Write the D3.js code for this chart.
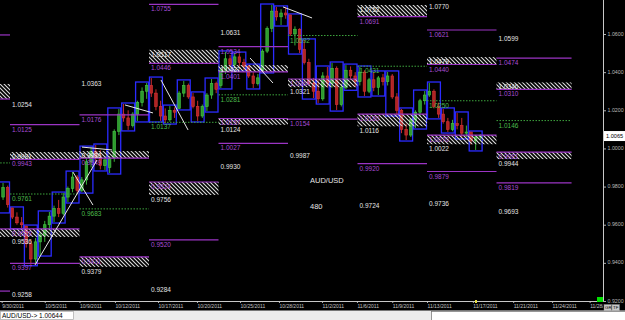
<!DOCTYPE html>
<html>
<head>
<meta charset="utf-8">
<script src="https://cdn.jsdelivr.net/npm/d3@7"></script>
<style>
  html, body { margin: 0; padding: 0; background: #000; }
  svg { display: block; }
</style>
</head>
<body>
<div id="chart"></div>
<script>
'use strict';

////////////////////////////////////////////////////////////////////////////////////
// data  (x positions are in trading-day units, day 0 = start of first full week)

var symbolName = 'AUD/USD';
var periodLabel = '480';
var statusQuote = '1.00644';

var priceTicks = [1.06, 1.04, 1.02, 1.00, 0.98, 0.96, 0.94, 0.92];
var dateTicks = [-0.6, 2.5, 5.0, 7.55, 10.65, 13.45, 16.55, 19.35, 22.45, 24.96, 27.5, 30.0, 33.3, 36.2, 39.0, 41.7];
var dateLabels = ['9/30/2011', '10/5/2011', '10/9/2011', '10/12/2011', '10/17/2011', '10/20/2011', '10/25/2011',
  '10/28/2011', '11/2/2011', '11/6/2011', '11/9/2011', '11/13/2011', '11/17/2011', '11/21/2011', '11/24/2011', '11/28/2011'];

// 8 hour candles, three per day, first one belongs to day -1
var firstDay = -1;
var ohlc = [
  [0.9700,0.9760,0.9667,0.9745],[0.9745,0.9819,0.9730,0.9795],[0.9795,0.9805,0.9690,0.9705],
  [0.9688,0.9688,0.9630,0.9640],[0.9640,0.9665,0.9600,0.9610],[0.9610,0.9640,0.9583,0.9600],
  [0.9593,0.9593,0.9480,0.9500],[0.9500,0.9520,0.9390,0.9420],[0.9420,0.9530,0.9400,0.9510],
  [0.9510,0.9560,0.9441,0.9545],[0.9545,0.9620,0.9510,0.9600],[0.9600,0.9667,0.9570,0.9645],
  [0.9645,0.9700,0.9614,0.9685],[0.9685,0.9730,0.9640,0.9660],[0.9660,0.9766,0.9650,0.9745],
  [0.9745,0.9800,0.9719,0.9790],[0.9790,0.9876,0.9770,0.9850],[0.9850,0.9860,0.9760,0.9780],
  [0.9780,0.9850,0.9771,0.9835],[0.9835,0.9950,0.9810,0.9930],[0.9930,1.0007,0.9900,0.9985],
  [0.9985,1.0018,0.9920,0.9950],[0.9950,0.9990,0.9890,0.9910],[0.9910,0.9960,0.9887,0.9940],
  [0.9900,0.9960,0.9871,0.9950],[0.9950,1.0100,0.9930,1.0090],[1.0090,1.0207,1.0070,1.0180],
  [1.0180,1.0233,1.0140,1.0160],[1.0160,1.0200,1.0097,1.0120],[1.0120,1.0190,1.0110,1.0180],
  [1.0180,1.0250,1.0144,1.0240],[1.0240,1.0320,1.0220,1.0300],[1.0300,1.0343,1.0260,1.0330],
  [1.0330,1.0369,1.0270,1.0290],[1.0290,1.0310,1.0200,1.0220],[1.0220,1.0250,1.0144,1.0170],
  [1.0170,1.0210,1.0133,1.0150],[1.0150,1.0222,1.0140,1.0200],[1.0200,1.0215,1.0160,1.0190],
  [1.0210,1.0300,1.0207,1.0290],[1.0290,1.0354,1.0270,1.0330],[1.0330,1.0340,1.0260,1.0270],
  [1.0270,1.0291,1.0210,1.0220],[1.0220,1.0250,1.0144,1.0170],[1.0170,1.0230,1.0160,1.0220],
  [1.0220,1.0290,1.0196,1.0280],[1.0280,1.0364,1.0260,1.0340],[1.0340,1.0350,1.0290,1.0310],
  [1.0330,1.0420,1.0317,1.0410],[1.0410,1.0506,1.0390,1.0470],[1.0470,1.0490,1.0420,1.0440],
  [1.0440,1.0500,1.0420,1.0480],[1.0480,1.0495,1.0430,1.0450],[1.0450,1.0470,1.0411,1.0430],
  [1.0430,1.0437,1.0370,1.0380],[1.0380,1.0400,1.0317,1.0340],[1.0340,1.0390,1.0330,1.0370],
  [1.0410,1.0520,1.0401,1.0510],[1.0510,1.0640,1.0500,1.0630],[1.0630,1.0752,1.0610,1.0720],
  [1.0720,1.0742,1.0670,1.0690],[1.0690,1.0730,1.0647,1.0710],[1.0710,1.0740,1.0680,1.0700],
  [1.0700,1.0700,1.0590,1.0600],[1.0600,1.0640,1.0540,1.0625],[1.0625,1.0630,1.0500,1.0520],
  [1.0520,1.0569,1.0440,1.0450],[1.0450,1.0470,1.0330,1.0340],[1.0340,1.0370,1.0264,1.0300],
  [1.0300,1.0360,1.0238,1.0260],[1.0260,1.0400,1.0250,1.0380],[1.0380,1.0427,1.0320,1.0340],
  [1.0340,1.0448,1.0320,1.0420],[1.0420,1.0430,1.0201,1.0230],[1.0230,1.0340,1.0220,1.0320],
  [1.0320,1.0437,1.0310,1.0410],[1.0410,1.0430,1.0360,1.0380],[1.0380,1.0400,1.0322,1.0350],
  [1.0350,1.0427,1.0330,1.0400],[1.0400,1.0410,1.0275,1.0300],[1.0300,1.0370,1.0290,1.0360],
  [1.0360,1.0401,1.0300,1.0320],[1.0320,1.0380,1.0280,1.0370],[1.0370,1.0390,1.0330,1.0350],
  [1.0350,1.0401,1.0330,1.0380],[1.0380,1.0390,1.0260,1.0270],[1.0270,1.0290,1.0175,1.0200],
  [1.0200,1.0207,1.0080,1.0100],[1.0100,1.0130,1.0044,1.0070],[1.0070,1.0160,1.0060,1.0150],
  [1.0150,1.0200,1.0107,1.0190],[1.0190,1.0260,1.0170,1.0250],[1.0250,1.0301,1.0230,1.0280],
  [1.0280,1.0343,1.0270,1.0300],[1.0300,1.0310,1.0210,1.0220],[1.0220,1.0240,1.0160,1.0180],
  [1.0180,1.0207,1.0130,1.0140],[1.0140,1.0160,1.0086,1.0100],[1.0100,1.0150,1.0090,1.0130],
  [1.0130,1.0186,1.0100,1.0120],[1.0120,1.0160,1.0055,1.0080],[1.0080,1.0120,1.0060,1.0086],
  [1.0086,1.0086,1.0020,1.0040],[1.0040,1.0070,0.9992,1.0060],[1.0060,1.0075,1.0045,1.0065]
];

// weekly level segments (week 0 is only the sliver at the left edge)
var weekStarts = [-2, 0, 5, 10, 15, 20, 25, 30, 35];
var weekEnds   = [0, 5, 10, 15, 20, 25, 30, 35, 40.4];

// [week, value]
var purpleLevels = [[0,1.0595],[0,0.9252],[1,1.0125],[1,0.9397],[2,1.0176],[3,1.0755],[3,0.9520],
  [4,1.0534],[4,1.0027],[5,1.0154],[6,0.9920],[7,1.0621],[7,0.9879],[8,1.0474],[8,0.9819]];
var greenLevels = [[0,0.9924],[1,0.9761],[2,0.9683],[3,1.0137],[4,1.0281],[5,1.0592],[6,1.0431],[7,1.0250],[8,1.0146]];
var whiteLevels = [[1,1.0254],[1,0.9258],[2,1.0363],[3,0.9284],[4,1.0631],[4,0.9930],[5,0.9987],
  [6,0.9724],[7,1.0770],[7,0.9736],[8,1.0599],[8,0.9693]];
// [week, purple value, white value]
var zones = [[0,1.0259,1.0338],[0,0.9578,0.9536],[1,0.9943,0.9981],[1,0.9578,0.9536],[2,0.9949,0.9986],
  [2,0.9431,0.9379],[3,1.0446,1.0517],[3,0.9824,0.9756],[4,1.0401,1.0437],[4,1.0157,1.0124],[5,1.0364,1.0321],
  [6,1.0691,1.0752],[6,1.0180,1.0116],[7,1.0440,1.0479],[7,1.0070,1.0022],[8,1.0310,1.0346],[8,0.9981,0.9944]];

// hand drawn trend lines [day1, price1, day2, price2]
var trendLines = [[1.8,0.9389,6.26,0.9939],[4.53,0.9876,5.97,0.9703],[5.18,1.0007,7.34,0.9992],
  [8.27,1.0228,10.29,1.0186],[10.86,1.0359,12.81,1.0097],[17.27,1.0474,18.92,1.0343],[19.64,1.0742,21.73,1.0684]];

////////////////////////////////////////////////////////////////////////////////////

var W = 625, H = 320;
var plotRight = 603, plotBottom = 301;
var purple = '#9b34c4', green = '#3da43d', white = '#e4e4e4';
var fmt = d3.format('.4f');

var svg = d3.select('#chart').append('svg')
  .attr('width', W).attr('height', H)
  .style('background', '#000')
  .style('font-family', '"Liberation Sans", Arial, sans-serif');

var x = d3.scaleLinear().domain([0, 35]).range([10, 496.5]);
var y = d3.scaleLinear().domain([0.92, 1.06]).range([plotBottom, 34]);

var defs = svg.append('defs');
var pat = defs.append('pattern').attr('id', 'hatch')
  .attr('patternUnits', 'userSpaceOnUse').attr('width', 4).attr('height', 4);
pat.append('path').attr('d', 'M-1,-1L5,5M3,-1L5,1M-1,3L1,5')
  .attr('stroke', '#dcdcdc').attr('stroke-width', 1.1);
defs.append('clipPath').attr('id', 'plotClip')
  .append('rect').attr('width', plotRight).attr('height', plotBottom);
defs.append('clipPath').attr('id', 'dateClip')
  .append('rect').attr('width', plotRight).attr('height', H);

var plot = svg.append('g').attr('clip-path', 'url(#plotClip)');

// candles
var bars = ohlc.map(function (r, i) {
  return { day: firstDay + Math.floor(i / 3), slot: i % 3, o: r[0], h: r[1], l: r[2], c: r[3] };
});
var cx = function (b) { return x(b.day + (b.slot + 0.5) / 3); };

// daily range boxes
var days = d3.groups(bars, function (b) { return b.day; });
plot.append('g').selectAll('rect').data(days).join('rect')
  .attr('x', function (d) { return x(d[0]) + 0.5; })
  .attr('width', function (d) { return x(d[0] + 1) - x(d[0]) - 1; })
  .attr('y', function (d) { return y(d3.max(d[1], function (b) { return b.h; })) - 1; })
  .attr('height', function (d) {
    return y(d3.min(d[1], function (b) { return b.l; })) - y(d3.max(d[1], function (b) { return b.h; })) + 2;
  })
  .attr('fill', 'none').attr('stroke', '#2b2bff').attr('stroke-width', 1.3);

var cg = plot.append('g');
cg.selectAll('line').data(bars).join('line')
  .attr('x1', cx).attr('x2', cx)
  .attr('y1', function (b) { return y(b.h); }).attr('y2', function (b) { return y(b.l); })
  .attr('stroke', function (b) { return b.c >= b.o ? '#36b036' : '#c42a2a'; }).attr('stroke-width', 1);
cg.selectAll('rect').data(bars).join('rect')
  .attr('x', function (b) { return cx(b) - 1.3; }).attr('width', 2.6)
  .attr('y', function (b) { return y(Math.max(b.o, b.c)); })
  .attr('height', function (b) { return Math.max(1, Math.abs(y(b.o) - y(b.c))); })
  .attr('fill', function (b) { return b.c >= b.o ? '#2e9a2e' : '#b02424'; })
  .attr('stroke', function (b) { return b.c >= b.o ? '#46c846' : '#d83434'; }).attr('stroke-width', 0.6);

// hatched zones
var segX1 = function (w) { return x(weekStarts[w]); };
var segX2 = function (w) { return x(weekEnds[w]); };
plot.append('g').selectAll('rect').data(zones).join('rect')
  .attr('x', function (d) { return segX1(d[0]); })
  .attr('width', function (d) { return segX2(d[0]) - segX1(d[0]); })
  .attr('y', function (d) { return y(Math.max(d[1], d[2])); })
  .attr('height', function (d) { return Math.abs(y(d[1]) - y(d[2])); })
  .attr('fill', 'url(#hatch)');

// level lines
var purpleAll = purpleLevels.concat(zones.map(function (z) { return [z[0], z[1]]; }));
plot.append('g').selectAll('line').data(purpleAll).join('line')
  .attr('x1', function (d) { return segX1(d[0]); }).attr('x2', function (d) { return segX2(d[0]); })
  .attr('y1', function (d) { return y(d[1]); }).attr('y2', function (d) { return y(d[1]); })
  .attr('stroke', purple).attr('stroke-width', 1.2);
plot.append('g').selectAll('line').data(greenLevels).join('line')
  .attr('x1', function (d) { return segX1(d[0]); }).attr('x2', function (d) { return segX2(d[0]); })
  .attr('y1', function (d) { return y(d[1]); }).attr('y2', function (d) { return y(d[1]); })
  .attr('stroke', green).attr('stroke-width', 1).attr('stroke-dasharray', '1.5,1.5');

// level labels, drawn just under their line; the left sliver week has its labels off screen
var whiteAll = whiteLevels.concat(zones.map(function (z) { return [z[0], z[2]]; }));
function levelLabels(data, color) {
  plot.append('g').selectAll('text').data(data.filter(function (d) { return d[0] > 0; })).join('text')
    .attr('x', function (d) { return segX1(d[0]) + 2; })
    .attr('y', function (d) { return y(d[1]) + 7; })
    .attr('fill', color).attr('font-size', 6.5)
    .text(function (d) { return fmt(d[1]); });
}
levelLabels(purpleAll, '#a84cd4');
levelLabels(greenLevels, '#4cbc4c');
levelLabels(whiteAll, white);

// trend lines
plot.append('g').selectAll('line').data(trendLines).join('line')
  .attr('x1', function (d) { return x(d[0]); }).attr('y1', function (d) { return y(d[1]); })
  .attr('x2', function (d) { return x(d[2]); }).attr('y2', function (d) { return y(d[3]); })
  .attr('stroke', '#e8e8e8').attr('stroke-width', 1);

// symbol caption
svg.append('text').attr('x', 310).attr('y', 183).attr('fill', white).attr('font-size', 7.5).text(symbolName);
svg.append('text').attr('x', 310).attr('y', 209).attr('fill', white).attr('font-size', 7.5).text(periodLabel);

////////////////////////////////////////////////////////////////////////////////////
// axes

var yAxis = d3.axisRight(y).tickValues(priceTicks).tickFormat(fmt).tickSize(3).tickPadding(1.5);
var yg = svg.append('g').attr('transform', 'translate(' + plotRight + ',0)').call(yAxis);
yg.select('.domain').remove();
yg.selectAll('line').attr('stroke', '#b0b0b0');
yg.selectAll('text').attr('fill', '#b8b8b8').attr('font-size', 5.3).attr('dy', '0.2em')
  .attr('font-family', '"Liberation Sans", Arial, sans-serif');

var xAxis = d3.axisBottom(x).tickValues(dateTicks)
  .tickFormat(function (d, i) { return dateLabels[i]; }).tickSize(2).tickPadding(1);
var xg = svg.append('g').attr('clip-path', 'url(#dateClip)')
  .append('g').attr('transform', 'translate(0,' + plotBottom + ')').call(xAxis);
xg.select('.domain').remove();
xg.selectAll('line').attr('stroke', '#b0b0b0');
xg.selectAll('text').attr('fill', '#c4c4c4').attr('font-size', 5).attr('text-anchor', 'start')
  .attr('font-family', '"Liberation Sans", Arial, sans-serif');

svg.append('line').attr('x1', plotRight + 0.5).attr('x2', plotRight + 0.5).attr('y1', 0).attr('y2', plotBottom)
  .attr('stroke', '#c8c8c8');
svg.append('line').attr('x1', 0).attr('x2', plotRight).attr('y1', plotBottom + 0.5).attr('y2', plotBottom + 0.5)
  .attr('stroke', '#c8c8c8');

// last price marker
var lastClose = ohlc[ohlc.length - 1][3];
svg.append('rect').attr('x', plotRight + 1).attr('y', y(lastClose) - 5).attr('width', W - plotRight - 1).attr('height', 10)
  .attr('fill', '#fff');
svg.append('text').attr('x', plotRight + 3).attr('y', y(lastClose) + 2.2).attr('fill', '#000').attr('font-size', 5.6)
  .text(fmt(lastClose));
svg.append('rect').attr('x', 597).attr('y', 297).attr('width', 6).attr('height', 5).attr('fill', '#00e000');
svg.append('rect').attr('x', 475).attr('y', 300).attr('width', 2).attr('height', 3).attr('fill', '#e8e040');

// GR / TF buttons
['GR', 'TF'].forEach(function (t, i) {
  svg.append('rect').attr('x', 604 + i * 8).attr('y', 304.5).attr('width', 7.5).attr('height', 6)
    .attr('fill', '#c8c8c8').attr('stroke', '#808080').attr('stroke-width', 0.5);
  svg.append('text').attr('x', 605 + i * 8).attr('y', 309.4).attr('font-size', 4.4).attr('fill', '#000').text(t);
});

// status bar
svg.append('rect').attr('x', 0).attr('y', 310.5).attr('width', W).attr('height', 9.5).attr('fill', '#ececec');
svg.append('rect').attr('x', 0.5).attr('y', 311.5).attr('width', 73).attr('height', 8).attr('fill', '#fff')
  .attr('stroke', '#a8a8a8').attr('stroke-width', 0.7);
svg.append('text').attr('x', 2).attr('y', 318.3).attr('font-size', 6.5).attr('fill', '#000')
  .text(symbolName + '-> ' + statusQuote);
svg.append('rect').attr('x', 431.5).attr('y', 311.5).attr('width', 194).attr('height', 9).attr('fill', '#fff')
  .attr('stroke', '#707070').attr('stroke-width', 0.7);
</script>
</body>
</html>
